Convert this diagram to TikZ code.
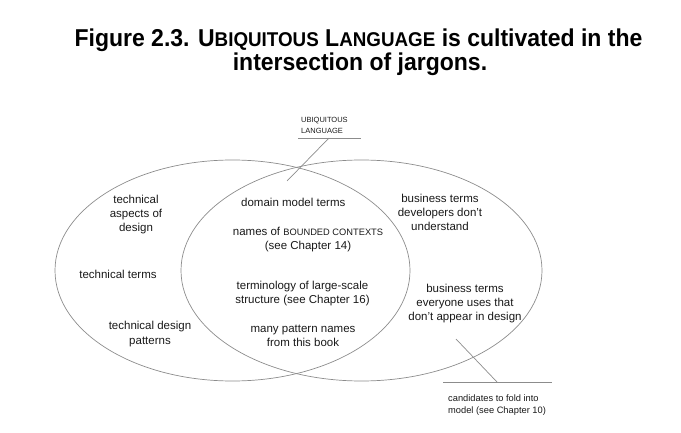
\documentclass[tikz,border=0pt]{standalone}
\usepackage{fontspec}
\usepackage{graphicx}
\setmainfont{Liberation Sans}
\begin{document}
\begin{tikzpicture}[x=1pt,y=-1pt,
  venn/.style={draw=black!45, line width=0.7pt},
  pointer/.style={draw=black!45, line width=0.7pt},
  body/.style={inner sep=0pt, anchor=base, align=center, font=\fontsize{11.5}{14}\selectfont, text=black!90},
  small/.style={inner sep=0pt, anchor=base west, align=left, font=\fontsize{7.5}{11}\selectfont, text=black!90},
  note/.style={inner sep=0pt, anchor=base west, align=left, font=\fontsize{9.3}{12}\selectfont, text=black!90},
  titlef/.style={inner sep=0pt, anchor=base, font=\fontsize{23}{24}\bfseries\selectfont, text=black}]
\useasboundingbox (0,0) rectangle (681,433);
\newcommand{\smc}[1]{{\fontsize{9.3}{14}\selectfont #1}}
\newcommand{\tsc}[1]{{\fontsize{18.8}{24}\selectfont #1}}
% title
\node[titlef] (title1) at (358.5,47) {\scalebox{1}[1.06]{Figure 2.3. U\tsc{BIQUITOUS} L\tsc{ANGUAGE} is cultivated in the}};
\node[titlef] (title2) at (360,71) {\scalebox{1}[1.06]{intersection of jargons.}};
% ellipses
\draw[venn] (232.5,270.5) ellipse [x radius=177.5, y radius=110.5];
\draw[venn] (361.5,270.5) ellipse [x radius=180.5, y radius=110.5];
% top label
\node[small] (ul) at (301,134) {UBIQUITOUS\\LANGUAGE};
\coordinate (ulA) at (298,138);
\coordinate (ulB) at (361,138);
\coordinate (ulC) at (329,138);
\coordinate (ulD) at (287,181);
\draw[pointer] (ulA) -- (ulB);
\draw[pointer] (ulC) -- (ulD);
% bottom label
\node[note] (cand) at (448,413) {candidates to fold into\\model (see Chapter 10)};
\coordinate (cA) at (443,382);
\coordinate (cB) at (552,382);
\coordinate (cC) at (497,382);
\coordinate (cD) at (456,339);
\draw[pointer] (cA) -- (cB);
\draw[pointer] (cC) -- (cD);
% left texts
\node[body] (tad) at (136,232) {technical\\aspects of\\design};
\node[body] (tt) at (118,279) {technical terms};
\node[body] (tdp) at (150,344) {technical design\\patterns};
% middle texts
\node[body] (dmt) at (293.3,206.5) {domain model terms};
\node[body] (bc) at (308,249.3) {names of \smc{BOUNDED CONTEXTS}\\(see Chapter 14)};
\node[body] (tls) at (302.5,303.3) {terminology of large-scale\\structure (see Chapter 16)};
\node[body] (mpn) at (303,346.7) {many pattern names\\from this book};
% right texts
\node[body] (bdd) at (440,230.5) {business terms\\developers don't\\understand};
\node[body] (beu) at (465,320) {business terms\\everyone uses that\\don't appear in design};
\end{tikzpicture}
\end{document}
